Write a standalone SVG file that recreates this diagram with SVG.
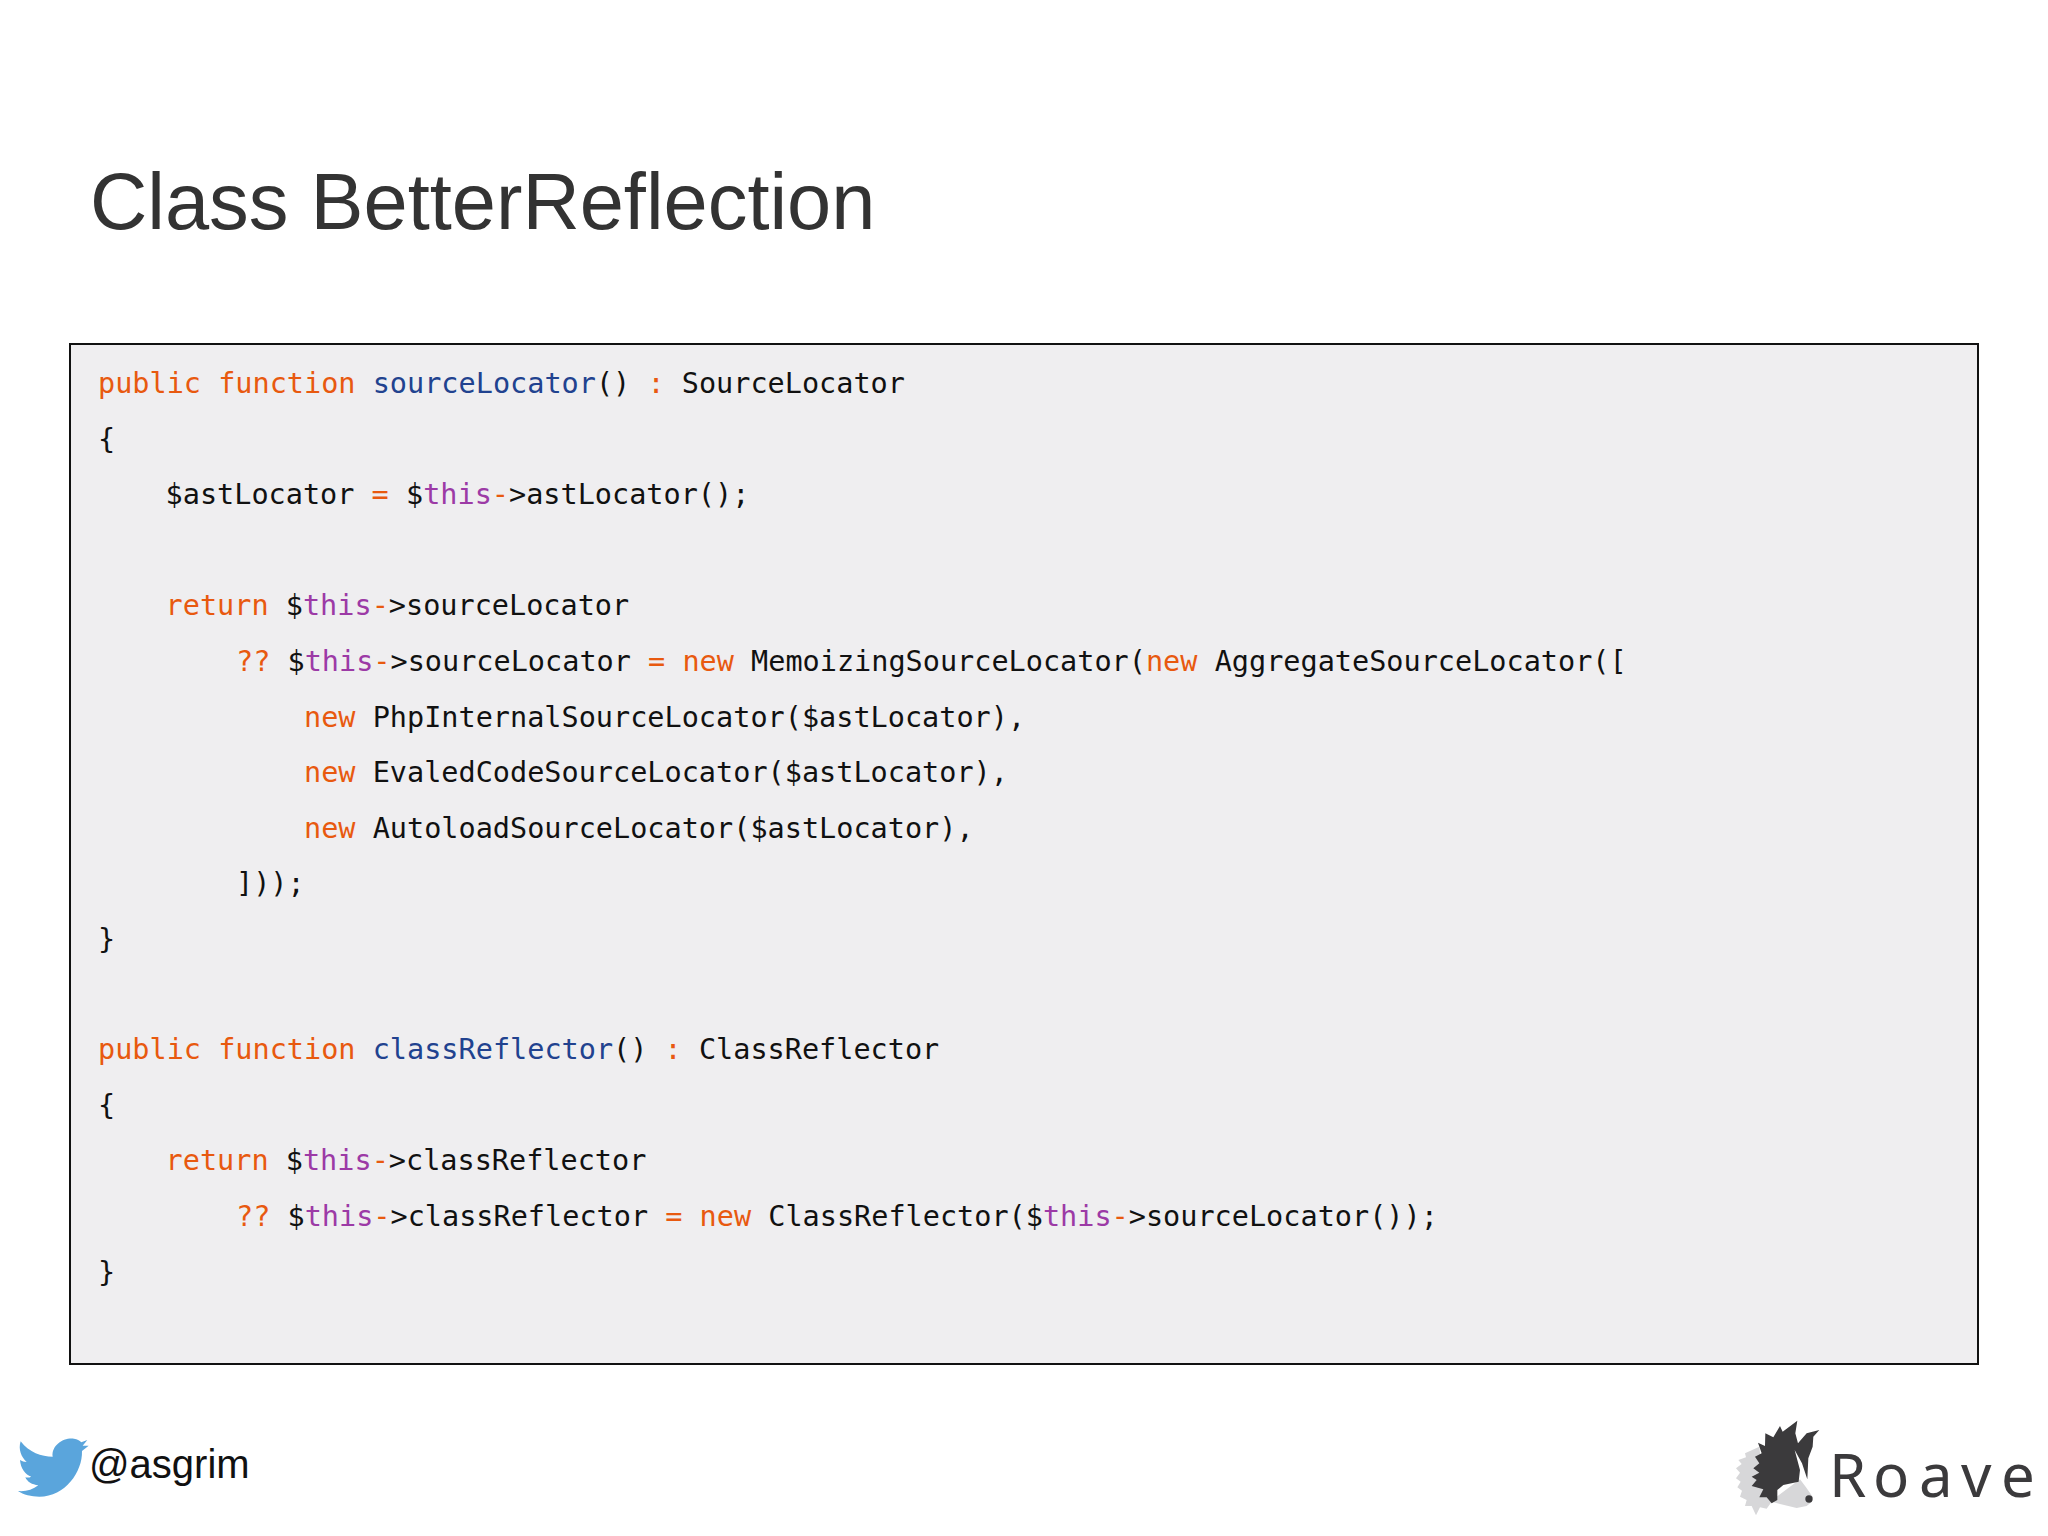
<svg xmlns="http://www.w3.org/2000/svg" width="2048" height="1536" viewBox="0 0 2048 1536">
<style>
.c{font-family:"DejaVu Sans Mono","Liberation Mono",monospace;font-size:28.52px;fill:#111}
.k{fill:#e8590f}.f{fill:#21428f}.t{fill:#9c3aa6}
</style>
<rect width="2048" height="1536" fill="#fff"/>
<text id="title" x="90" y="229" font-family="Liberation Sans,Arial,sans-serif" font-size="79.4" fill="#333">Class BetterReflection</text>
<g id="code">
<rect x="70" y="344" width="1908" height="1020" fill="#efeef0" stroke="#111" stroke-width="2"/>
<text class="c" x="98" y="393"><tspan class="k">public function</tspan> <tspan class="f">sourceLocator</tspan>() <tspan class="k">:</tspan> SourceLocator</text>
<text class="c" x="98" y="449">{</text>
<text class="c" x="165.6" y="504">$astLocator <tspan class="k">=</tspan> $<tspan class="t">this</tspan><tspan class="k">-</tspan>&gt;astLocator();</text>
<text class="c" x="165.6" y="615"><tspan class="k">return</tspan> $<tspan class="t">this</tspan><tspan class="k">-</tspan>&gt;sourceLocator</text>
<text class="c" x="236" y="671"><tspan class="k">??</tspan> $<tspan class="t">this</tspan><tspan class="k">-</tspan>&gt;sourceLocator <tspan class="k">=</tspan> <tspan class="k">new</tspan> MemoizingSourceLocator(<tspan class="k">new</tspan> AggregateSourceLocator([</text>
<text class="c" x="304" y="727"><tspan class="k">new</tspan> PhpInternalSourceLocator($astLocator),</text>
<text class="c" x="304" y="782"><tspan class="k">new</tspan> EvaledCodeSourceLocator($astLocator),</text>
<text class="c" x="304" y="838"><tspan class="k">new</tspan> AutoloadSourceLocator($astLocator),</text>
<text class="c" x="236" y="893">]));</text>
<text class="c" x="98" y="949">}</text>
<text class="c" x="98" y="1059"><tspan class="k">public function</tspan> <tspan class="f">classReflector</tspan>() <tspan class="k">:</tspan> ClassReflector</text>
<text class="c" x="98" y="1115">{</text>
<text class="c" x="165.6" y="1170"><tspan class="k">return</tspan> $<tspan class="t">this</tspan><tspan class="k">-</tspan>&gt;classReflector</text>
<text class="c" x="236" y="1226"><tspan class="k">??</tspan> $<tspan class="t">this</tspan><tspan class="k">-</tspan>&gt;classReflector <tspan class="k">=</tspan> <tspan class="k">new</tspan> ClassReflector($<tspan class="t">this</tspan><tspan class="k">-</tspan>&gt;sourceLocator());</text>
<text class="c" x="98" y="1282">}</text>
</g>
<g id="twitter">
<path transform="translate(0 1400) scale(.3333)" fill="#5aa5dc" d="M62,124C88,158 124,170 158,170C154,136 190,112 222,116C232,117 238,121 244,127L262,120L248,137L266,137L246,153C248,215 196,290 118,290C94,290 70,284 54,273C76,275 98,270 115,256C96,254 82,246 76,232C82,234 90,232 94,230C76,224 62,206 60,180C66,184 72,186 80,186C64,172 54,148 62,124Z"/>
<text x="89" y="1478" font-family="Liberation Sans,Arial,sans-serif" font-size="40" fill="#111">@asgrim</text>
</g>
<g id="roave">
<g transform="translate(1700 1400) scale(.3333)">
<path fill="#d7d7d9" d="M178,140L135,160L138,172L115,180L125,192L108,205L120,218L108,235L122,245L112,262L126,272L120,290L140,300L135,318L155,318L168,346L180,322L200,326L215,305L240,312L290,324L320,318L336,305L338,290L318,262L300,238L230,290L190,250Z"/>
<path fill="#3b3a3c" d="M292,62L286,100L294,130L320,100L358,90L340,110L338,140L325,175L322,238L306,190L284,150L300,210L296,245L250,255L232,270L232,300L215,310L200,292L178,292L190,268L155,258L170,240L155,230L178,218L160,205L178,190L165,170L185,160L174,128L195,138L196,100L220,112L240,78L248,95Z"/>
<ellipse cx="327" cy="297" rx="11" ry="11" fill="#3b3a3c"/>
</g>
<text y="1497" x="1829 1873 1919 1961 2001" font-family="Noto Sans,Open Sans,sans-serif" font-size="60" fill="#3b3a3c">Roave</text>
</g>
</svg>
